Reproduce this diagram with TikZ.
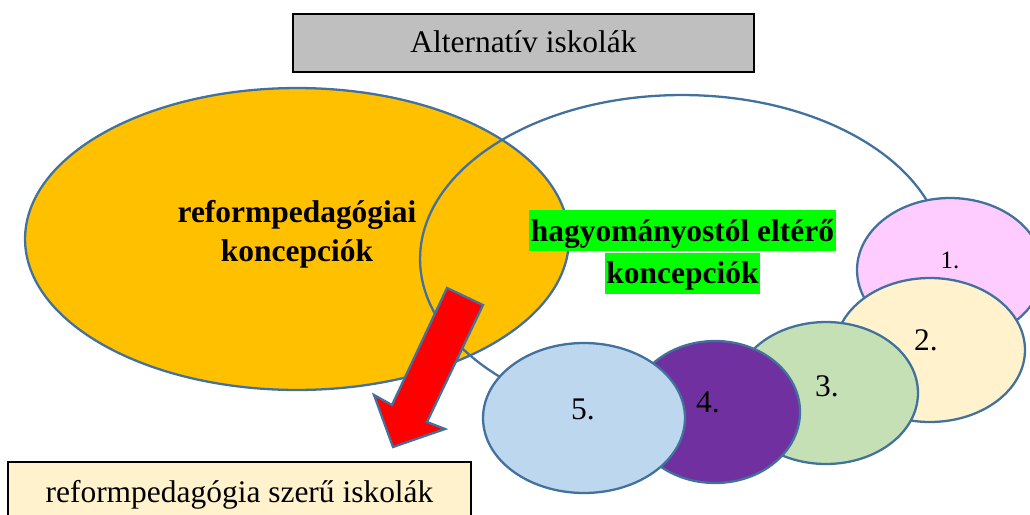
\documentclass[tikz,border=0pt]{standalone}
\usepackage{fontspec}
\setmainfont{Liberation Serif}
\usetikzlibrary{shapes.geometric}
\definecolor{edgeblue}{HTML}{41719C}
\definecolor{orangefill}{HTML}{FFC000}
\definecolor{grayfill}{HTML}{BFBFBF}
\definecolor{creamfill}{HTML}{FFF2CC}
\definecolor{pinkfill}{HTML}{FFCCFF}
\definecolor{greenfill}{HTML}{C5E0B4}
\definecolor{purplefill}{HTML}{7030A0}
\definecolor{bluefill}{HTML}{BDD7EE}
\definecolor{hlgreen}{HTML}{00FF00}
\newcommand{\hlline}[1]{{\setlength\fboxsep{0pt}\colorbox{hlgreen}{\rule[-0.2cm]{0pt}{0.82cm}\hspace{0.03cm}#1\hspace{0.03cm}}}}
\begin{document}
\begin{tikzpicture}[x=0.02cm,y=-0.02cm,
  blob/.style={ellipse, draw=edgeblue, line width=1.3pt, inner sep=0pt},
  txt/.style={font=\fontsize{17.9}{22.1}\selectfont, inner sep=0pt},
  numlbl/.style={txt, anchor=base},
  titlebox/.style={rectangle, draw=black, line width=1.1pt, inner sep=0pt, font=\fontsize{17.9}{22.1}\selectfont}
  ]
\useasboundingbox (0,0) rectangle (1030,514);

% big ellipses
\node[blob, fill=orangefill, minimum width=10.88cm, minimum height=6.04cm] (reform) at (297,239) {};
\node[blob, minimum width=10.48cm, minimum height=6.56cm] (elter) at (682,259) {};

\node[txt, align=center, font=\fontsize{17.9}{22.1}\selectfont\bfseries] (reformtxt) at (297,234.6) {reformpedagógiai\\koncepciók};
\node[txt, align=center, font=\fontsize{17.9}{24.4}\selectfont\bfseries] (eltertxt) at (682.5,252) {\hlline{hagyományostól eltérő}\\\hlline{koncepciók}};

% small ellipses
\node[blob, fill=pinkfill, minimum width=3.72cm, minimum height=2.88cm] (e1) at (950,270) {};
\node[blob, fill=creamfill, minimum width=3.8cm, minimum height=2.88cm] (e2) at (930,350) {};
\node[blob, fill=greenfill, minimum width=3.68cm, minimum height=2.84cm] (e3) at (826,393) {};
\node[blob, fill=purplefill, minimum width=3.4cm, minimum height=2.84cm] (e4) at (715,412) {};
\node[blob, fill=bluefill, minimum width=4.04cm, minimum height=3.0cm] (e5) at (584,418) {};

\node[numlbl, font=\fontsize{14.2}{17}\selectfont] (n1) at (950,268) {1.};
\node[numlbl] (n2) at (926,350) {2.};
\node[numlbl] (n3) at (827,396) {3.};
\node[numlbl] (n4) at (708,412) {4.};
\node[numlbl] (n5) at (583,419) {5.};

% arrow
\filldraw[fill=red, draw=edgeblue, line width=1.3pt, line join=miter]
  (447,288) -- (483,305) -- (427,422) -- (445,429) -- (393,447) -- (374,395) -- (392,405) -- cycle;

% boxes
\node[titlebox, fill=grayfill, minimum width=9.22cm, minimum height=1.16cm, text height=0.5cm, text depth=0.11cm] (alt) at (523.5,43) {Alternatív iskolák};
\node[titlebox, fill=creamfill, minimum width=9.26cm, minimum height=1.44cm, text height=0.5cm, text depth=0.312cm] (szeru) at (239.5,498) {reformpedagógia szerű iskolák};
\end{tikzpicture}
\end{document}
